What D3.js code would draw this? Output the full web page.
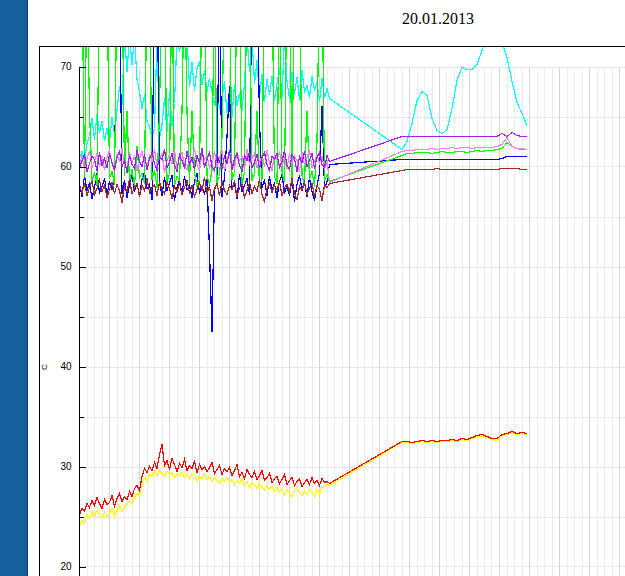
<!DOCTYPE html>
<html>
<head>
<meta charset="utf-8">
<script src="https://cdn.jsdelivr.net/npm/d3@7"></script>
<style>
  body { margin: 0; background: #fff; }
  svg { display: block; }
</style>
</head>
<body>
<div id="chart"></div>
<script>
// times in minutes after midnight
var noisyMinutes = d3.range(0, 501, 5);
var lateMinutes = d3.range(645, 896, 10);

// values in C (80 / 73 = off the top)
var cyanNoisy = [60.8,61.5,60.5,62.3,63.0,64.8,62.7,65.2,63.4,64.5,
  62.6,63.8,62.4,64.9,63.2,65.6,68.0,66.2,73,69.5,
  73,70.2,73,68.7,67.5,65.8,67.2,64.6,64.0,62.9,
  63.8,73,62.8,64.2,66.8,63.5,67.5,64.1,66.3,73,
  71.5,73,73,72.8,68.0,70.4,67.6,69.8,70.5,68.2,
  69.6,67.5,68.8,67.4,66.2,67.5,65.8,66.9,68.5,65.4,
  67.8,65.0,68.2,66.1,67.3,65.6,68.4,73,69.5,73,
  68.3,70.6,67.0,69.2,66.5,68.7,67.2,69.0,66.6,68.3,
  69.8,67.0,73,68.5,66.8,69.4,67.3,68.9,66.7,69.6,
  67.5,68.1,66.9,69.0,67.6,68.4,66.5,68.8,66.9,67.8,66.8];
var cyanLate = [61.7,62.5,64.3,66.6,67.5,67.1,64.8,63.6,63.3,63.7,
  65.8,68.6,69.9,69.7,69.7,70.2,71.6,72.8,73.5,73.4,
  72.4,70.9,68.5,66.4,65.3,64.1];

var greenNoisy = [80,80,59.0,80,65.5,58.6,59.4,58.1,80,80,
  80,80,58.8,59.5,58.2,80,80,80,59.1,65.5,
  58.4,59.7,58.0,62.0,58.9,59.3,58.3,80,80,58.7,
  59.6,57.9,65.5,80,80,58.5,59.2,80,58.1,59.0,
  58.6,65.5,80,65.5,58.3,65.5,59.4,58.0,58.8,80,
  80,59.1,58.2,59.6,80,58.4,59.0,63.0,80,80,
  80,58.7,59.3,80,80,58.1,59.5,80,80,58.6,
  59.2,65.5,57.9,58.8,80,80,80,80,59.0,58.3,
  80,59.4,58.5,80,80,58.9,80,80,80,59.1,
  58.2,65.5,58.7,59.5,58.0,62.5,80,80,58.6,59.2,58.5];
var greenLate = [61.1,61.3,61.3,61.4,61.4,61.4,61.3,61.4,61.5,61.4,
  61.4,61.5,61.5,61.4,61.5,61.6,61.5,61.6,61.6,61.7,
  61.8,62.4,62.0,61.8,61.7,61.7];

var blueNoisy = [58.2,57.0,59.1,57.6,58.4,56.8,57.9,59.3,57.4,58.0,
  58.8,57.2,58.5,57.7,59.0,80,80,57.3,58.6,56.9,
  58.1,59.2,57.5,58.3,57.0,58.7,59.4,57.8,58.2,56.7,
  80,80,58.4,57.1,58.9,57.6,58.3,59.1,56.6,57.9,
  58.6,57.3,59.0,57.7,58.1,56.9,58.5,59.3,57.4,58.0,
  57.2,58.7,51.5,43.5,57.6,58.4,80,57.0,58.9,63.0,
  68.0,57.8,58.3,56.8,59.2,57.5,58.1,58.8,57.2,80,
  80,80,64.5,57.9,58.6,57.1,59.0,57.6,58.3,56.9,
  58.5,59.2,57.4,58.0,57.1,58.8,56.5,58.2,59.1,57.7,
  58.4,57.0,58.9,57.5,56.6,58.1,59.3,66.0,57.8,58.5,60.2];
var blueLate = [60.7,60.7,60.7,60.7,60.7,60.7,60.7,60.7,60.7,60.7,
  60.7,60.7,60.7,60.7,60.7,60.7,60.7,60.7,60.7,60.7,
  60.8,61.0,61.0,61.0,61.0,61.0];

var violetNoisy = [60.2,61.1,59.6,60.8,61.5,59.9,60.5,61.3,60.0,61.0,
  59.7,60.9,61.6,60.3,59.5,61.2,60.6,61.8,60.1,59.8,
  61.4,60.4,61.0,59.6,60.7,61.5,60.2,59.9,61.1,60.5,
  61.7,60.0,60.8,61.3,59.4,60.6,61.2,60.3,61.6,59.8,
  60.9,61.4,60.1,59.7,61.0,60.5,61.8,60.2,59.6,61.3,
  60.7,61.1,59.9,60.4,61.5,60.0,60.8,61.6,59.5,60.9,
  61.2,60.3,59.8,61.4,60.6,61.0,59.7,61.7,60.2,60.8,
  61.3,59.9,60.5,61.1,60.0,61.6,60.4,59.6,61.2,60.7,
  61.5,60.1,60.9,59.8,61.3,60.4,61.0,60.6,59.5,61.4,
  60.2,60.9,61.6,59.9,60.5,61.2,60.3,61.0,59.7,60.6,58.4];
var violetLate = [61.5,61.6,61.6,61.7,61.7,61.7,61.8,61.7,61.8,61.8,
  61.9,61.8,61.9,61.9,61.8,61.9,61.9,61.9,61.9,62.0,
  62.2,62.9,62.0,61.8,61.8,61.7];

var purpleNoisy = [59.8,60.6,61.2,59.5,60.3,61.0,60.7,59.6,61.4,60.1,
  60.8,59.9,61.3,60.4,59.7,60.9,61.5,60.0,60.6,59.4,
  61.1,60.2,59.8,61.6,60.5,60.0,61.2,59.7,60.8,61.4,
  60.3,59.6,61.0,60.7,61.7,59.9,60.4,61.3,60.1,59.5,
  61.2,60.6,59.8,61.5,60.2,60.9,59.7,61.1,60.4,61.8,
  59.9,60.7,61.4,60.0,59.6,61.2,60.5,59.8,61.0,60.3,
  61.6,59.7,60.8,61.3,60.1,59.5,61.1,60.6,61.5,59.9,
  60.4,61.2,59.8,60.9,61.4,60.2,59.6,61.0,60.7,61.3,
  59.9,60.5,61.6,60.1,59.7,61.2,60.8,59.5,61.0,60.4,
  61.5,60.0,60.6,61.3,59.8,60.9,61.4,60.2,59.9,61.1,60.5];
var purpleLate = [63.0,63.0,63.0,63.0,63.0,63.0,63.0,63.0,63.0,63.0,
  63.0,63.0,63.0,63.0,63.0,63.0,63.0,63.0,63.0,63.0,
  63.3,63.0,63.4,63.1,63.0,63.0];

var brownNoisy = [58.0,57.4,58.3,57.1,57.9,58.5,57.2,57.8,58.6,57.5,
  58.1,56.9,57.7,58.4,57.3,58.2,57.6,56.4,58.0,57.5,
  58.7,57.3,57.9,58.3,57.0,58.1,57.6,58.8,57.4,57.9,
  58.2,57.1,58.5,57.7,57.3,58.4,57.8,56.8,58.0,57.5,
  58.3,57.2,57.9,58.6,57.4,58.1,57.0,57.7,58.4,57.6,
  58.9,57.3,58.0,56.6,57.8,58.3,57.1,58.5,57.6,57.2,
  58.1,57.7,58.6,57.0,57.9,58.2,56.9,57.6,58.4,57.3,
  58.0,57.5,58.7,57.2,56.5,57.8,58.3,57.4,58.1,57.7,
  58.5,57.1,57.9,58.2,57.5,58.8,57.3,56.7,58.0,57.6,
  58.4,57.2,57.8,58.3,57.0,58.1,57.7,56.6,58.2,57.9,58.3];
var brownLate = [59.6,59.7,59.7,59.7,59.7,59.7,59.7,59.8,59.7,59.7,
  59.7,59.7,59.7,59.7,59.7,59.7,59.7,59.7,59.7,59.7,
  59.8,59.8,59.8,59.8,59.7,59.7];

var redNoisy = [25.2,25.8,25.5,26.3,25.9,26.6,26.1,26.9,26.3,25.8,
  26.7,26.2,26.4,27.1,26.0,26.8,27.3,26.5,27.0,26.7,
  27.5,27.0,27.8,28.1,27.6,29.0,29.8,29.4,30.0,29.6,
  30.4,29.8,31.2,32.2,30.1,30.6,29.7,30.8,30.2,29.5,
  30.3,29.9,30.7,29.6,30.1,29.8,30.5,29.4,30.2,29.7,
  30.0,29.5,29.9,30.4,29.3,29.7,30.1,29.2,29.8,29.5,
  29.9,29.1,29.6,30.2,29.0,29.4,28.8,29.7,29.2,28.9,
  29.5,28.7,29.1,29.6,28.6,28.9,29.3,28.4,28.8,29.0,
  28.3,28.7,29.2,28.2,28.6,28.9,28.1,28.5,28.8,28.0,
  28.4,28.7,28.2,28.9,28.3,28.6,28.1,28.8,28.4,28.5,28.3];
var redLate = [32.5,32.5,32.4,32.5,32.6,32.5,32.6,32.5,32.6,32.6,
  32.7,32.6,32.8,32.7,32.9,33.1,33.2,33.0,32.8,32.8,
  33.2,33.3,33.5,33.3,33.4,33.3];

var yellowNoisy = [24.1,24.6,24.3,25.2,24.8,25.5,25.0,25.6,25.2,24.9,
  25.4,25.0,25.3,25.8,25.1,25.6,26.1,25.5,25.9,26.2,
  26.6,26.3,26.9,27.3,27.0,28.2,28.9,28.6,29.3,29.0,
  29.5,29.1,29.6,29.3,29.0,29.5,29.2,29.4,28.9,29.3,
  29.1,29.4,28.9,29.2,28.8,29.3,29.0,28.6,29.1,28.8,
  29.2,28.7,29.0,28.5,28.9,28.6,28.3,28.8,28.5,28.9,
  28.4,28.7,28.2,28.6,28.3,28.8,28.1,28.5,27.9,28.4,
  28.2,27.8,28.3,27.9,27.6,28.1,27.7,28.0,27.5,27.9,
  27.4,27.8,27.2,27.7,27.3,27.0,27.6,27.9,27.4,27.1,
  27.6,27.2,27.8,27.4,27.0,27.7,27.3,27.9,28.0,28.2,28.1];
var yellowLate = [32.4,32.4,32.3,32.4,32.5,32.4,32.5,32.4,32.5,32.5,
  32.6,32.5,32.7,32.6,32.8,33.0,33.0,32.9,32.7,32.6,
  33.1,33.2,33.4,33.2,33.3,33.2];

var yTicks = [20, 30, 40, 50, 60, 70];
var yMinorTicks = [25, 35, 45, 55, 65];
var titleText = "20.01.2013";

var series = [
  {name: "cyan", color: "#00ffff", noisy: cyanNoisy, late: cyanLate},
  {name: "blue", color: "#0000ff", noisy: blueNoisy, late: blueLate},
  {name: "green", color: "#00ff00", noisy: greenNoisy, late: greenLate},
  {name: "violet", color: "#ee82ee", noisy: violetNoisy, late: violetLate},
  {name: "purple", color: "#a020f0", noisy: purpleNoisy, late: purpleLate},
  {name: "brown", color: "#a52a2a", noisy: brownNoisy, late: brownLate},
  {name: "yellow", color: "#ffff00", noisy: yellowNoisy, late: yellowLate},
  {name: "red", color: "#ff0000", noisy: redNoisy, late: redLate}
];

var svgWidth = 625;
var svgHeight = 576;

var svg = d3.select("#chart").append("svg")
    .attr("width", svgWidth)
    .attr("height", svgHeight);

// left blue band
svg.append("rect")
    .attr("x", 0).attr("y", 0)
    .attr("width", 27).attr("height", svgHeight)
    .attr("fill", "#175e9f");
svg.append("line")
    .attr("x1", 27.5).attr("x2", 27.5)
    .attr("y1", 0).attr("y2", svgHeight)
    .attr("stroke", "#0f3f6e");

// title
svg.append("text")
    .attr("x", 438)
    .attr("y", 24)
    .attr("text-anchor", "middle")
    .attr("font-family", "Liberation Serif, Times New Roman, serif")
    .attr("font-size", "16px")
    .attr("fill", "#000")
    .text(titleText);

// outer frame
svg.append("path")
    .attr("d", "M39.5," + svgHeight + "V46.5H" + svgWidth)
    .attr("fill", "none")
    .attr("stroke", "#000")
    .attr("shape-rendering", "crispEdges");

// scales
var xScale = d3.scaleLinear().domain([0, 1440]).range([79.5, 799.5]);
var yScale = d3.scaleLinear().domain([15, 70]).range([616.5, 66.5]);

// grid
var grid = svg.append("g").attr("shape-rendering", "crispEdges");
grid.selectAll("line.h")
    .data(d3.range(20, 71, 5))
    .enter().append("line")
    .attr("x1", 80).attr("x2", svgWidth)
    .attr("y1", d => Math.round(yScale(d)) + 0.5)
    .attr("y2", d => Math.round(yScale(d)) + 0.5)
    .attr("stroke", "#e6e6e6");
grid.selectAll("line.v")
    .data(d3.range(15, 1441, 15))
    .enter().append("line")
    .attr("x1", d => Math.floor(xScale(d)) + 0.5)
    .attr("x2", d => Math.floor(xScale(d)) + 0.5)
    .attr("y1", yScale(70))
    .attr("y2", svgHeight)
    .attr("stroke", d => d % 60 === 0 ? "#d6d6d6" : "#ececec");

// data lines
svg.append("clipPath").attr("id", "plotclip")
    .append("rect")
    .attr("x", 80).attr("y", 47)
    .attr("width", svgWidth - 80).attr("height", svgHeight - 47);

var line = d3.line()
    .x(d => xScale(d.t))
    .y(d => yScale(d.v));

var plot = svg.append("g").attr("clip-path", "url(#plotclip)");

series.forEach(function (s) {
    var pts = noisyMinutes.map((t, i) => ({t: t, v: s.noisy[i]}))
        .concat(lateMinutes.map((t, i) => ({t: t, v: s.late[i]})));
    plot.append("path")
        .datum(pts)
        .attr("fill", "none")
        .attr("stroke", s.color)
        .attr("stroke-width", 1.2)
        .attr("shape-rendering", "crispEdges")
        .attr("d", line);
});

// y axis
var axisG = svg.append("g")
    .attr("transform", "translate(79.5,0)")
    .attr("shape-rendering", "crispEdges");
axisG.call(d3.axisLeft(yScale)
    .tickValues(yTicks)
    .tickSize(-6)
    .tickSizeOuter(0)
    .tickPadding(8)
    .tickFormat(d3.format("d")));
axisG.select(".domain").attr("d", "M0,66.5V" + svgHeight);
axisG.selectAll(".tick line").attr("stroke", "#000");
axisG.selectAll(".tick text")
    .attr("font-family", "Liberation Sans, Arial, sans-serif")
    .attr("font-size", "10px")
    .attr("fill", "#000");

var minorG = svg.append("g")
    .attr("transform", "translate(79.5,0)")
    .attr("shape-rendering", "crispEdges");
minorG.call(d3.axisLeft(yScale)
    .tickValues(yMinorTicks)
    .tickSize(-4)
    .tickSizeOuter(0)
    .tickFormat(""));
minorG.select(".domain").remove();

// y label
svg.append("text")
    .attr("transform", "translate(47,367) rotate(-90)")
    .attr("text-anchor", "middle")
    .attr("font-family", "Liberation Sans, Arial, sans-serif")
    .attr("font-size", "8px")
    .attr("fill", "#000")
    .text("C");
</script>
</body>
</html>
